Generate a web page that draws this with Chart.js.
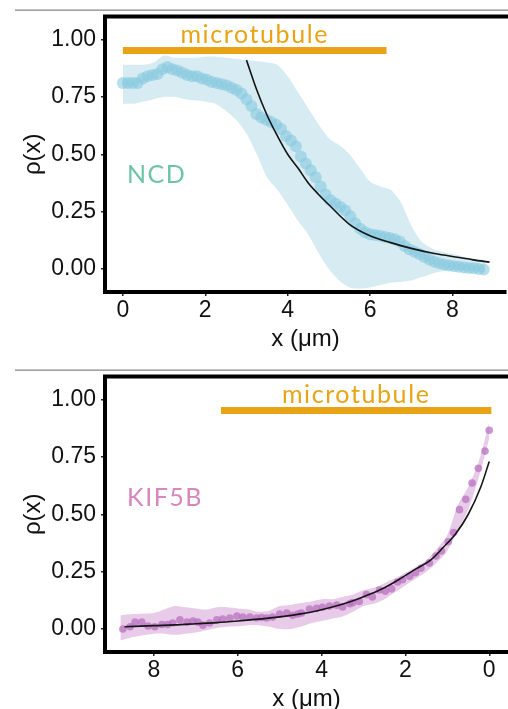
<!DOCTYPE html>
<html><head><meta charset="utf-8">
<script src="https://cdn.jsdelivr.net/npm/chart.js@4.4.1/dist/chart.umd.min.js"></script>
<style>
html,body{margin:0;padding:0;background:#fff;overflow:hidden;width:508px;height:709px;position:relative;}
.wrap{position:absolute;left:0;width:512px;height:360px;}
#w1{top:0}
#w2{top:360px}
canvas{display:block}
</style></head><body>
<div class="wrap" id="w1"><canvas id="c1" width="512" height="360"></canvas></div>
<div class="wrap" id="w2"><canvas id="c2" width="512" height="360"></canvas></div>
<script>
// ---------- shared ticks ----------
const xTicks = [0, 2, 4, 6, 8];
const yTicks = [0, 0.25, 0.5, 0.75, 1.0];

// ---------- NCD (top panel) ----------
const ncdX = [0.00,0.12,0.24,0.36,0.48,0.60,0.72,0.84,0.96,1.08,1.20,1.32,1.44,1.56,1.68,1.80,1.92,2.04,2.16,2.28,2.40,2.52,2.64,2.76,2.88,3.00,3.12,3.24,3.36,3.48,3.60,3.72,3.84,3.96,4.08,4.20,4.32,4.44,4.56,4.68,4.80,4.92,5.04,5.16,5.28,5.40,5.52,5.64,5.76,5.88,6.00,6.12,6.24,6.36,6.48,6.60,6.72,6.84,6.96,7.08,7.20,7.32,7.44,7.56,7.68,7.80,7.92,8.04,8.16,8.28,8.40,8.52,8.64,8.76];
const ncdY = [0.81,0.81,0.81,0.81,0.83,0.84,0.845,0.85,0.87,0.88,0.87,0.865,0.855,0.845,0.84,0.84,0.83,0.825,0.815,0.81,0.805,0.80,0.79,0.78,0.765,0.74,0.71,0.675,0.66,0.65,0.64,0.628,0.61,0.58,0.56,0.535,0.49,0.46,0.43,0.40,0.36,0.325,0.30,0.285,0.27,0.255,0.23,0.20,0.175,0.16,0.152,0.148,0.145,0.14,0.135,0.13,0.12,0.10,0.085,0.075,0.065,0.052,0.042,0.032,0.025,0.02,0.015,0.012,0.01,0.007,0.005,0.003,0.0,-0.002];
const ncdBandX = [0,0.25,0.5,0.75,1.0,1.25,1.5,1.75,2.0,2.25,2.5,2.75,3.0,3.25,3.5,3.75,4.0,4.25,4.5,4.75,5.0,5.25,5.5,5.75,6.0,6.25,6.5,6.75,7.0,7.25,7.5,7.75,8.0,8.25,8.5,8.8];
const ncdUpper = [0.89,0.89,0.89,0.90,0.93,0.92,0.92,0.92,0.925,0.925,0.92,0.915,0.91,0.905,0.90,0.89,0.84,0.77,0.70,0.63,0.57,0.54,0.50,0.44,0.38,0.36,0.345,0.29,0.19,0.12,0.09,0.075,0.065,0.055,0.045,0.04];
const ncdLower = [0.72,0.72,0.73,0.74,0.75,0.75,0.74,0.735,0.73,0.72,0.69,0.65,0.59,0.50,0.40,0.345,0.28,0.21,0.15,0.07,0.0,-0.05,-0.08,-0.085,-0.08,-0.07,-0.06,-0.055,-0.05,-0.035,-0.02,-0.01,-0.005,-0.005,-0.01,-0.015];
const ncdFitX = [3.0,3.25,3.5,3.75,4.0,4.25,4.5,4.75,5.0,5.5,6.0,6.5,7.0,7.5,8.0,8.5,8.9];
const ncdFitY = [0.91,0.78,0.67,0.58,0.50,0.44,0.375,0.325,0.28,0.195,0.145,0.115,0.09,0.07,0.055,0.04,0.03];
const ncdTubeX = [0, 6.4];

// ---------- KIF5B (bottom panel) ----------
const kifX = [8.74,8.57,8.45,8.29,8.14,7.98,7.81,7.67,7.55,7.38,7.21,7.07,6.95,6.83,6.67,6.50,6.36,6.19,6.02,5.88,5.71,5.55,5.43,5.31,5.17,5.00,4.83,4.69,4.57,4.48,4.29,4.12,3.98,3.81,3.64,3.50,3.33,3.26,3.10,2.93,2.79,2.62,2.48,2.33,2.19,2.07,1.90,1.76,1.63,1.43,1.27,1.14,0.98,0.85,0.71,0.56,0.41,0.26,0.10,0.0];
const kifY = [0.0,0.01,0.03,0.03,0.013,0.01,0.02,0.02,0.026,0.04,0.03,0.035,0.03,0.017,0.026,0.04,0.043,0.048,0.057,0.052,0.052,0.048,0.05,0.048,0.052,0.065,0.07,0.06,0.065,0.07,0.087,0.09,0.095,0.10,0.104,0.096,0.11,0.115,0.12,0.15,0.14,0.17,0.165,0.175,0.205,0.215,0.23,0.245,0.265,0.288,0.318,0.34,0.38,0.42,0.52,0.565,0.636,0.70,0.775,0.866];
const kifBandX = [8.8,8.5,8.0,7.75,7.5,7.25,7.0,6.75,6.5,6.25,6.0,5.75,5.5,5.25,5.0,4.75,4.5,4.25,4.0,3.75,3.5,3.25,3.0,2.75,2.5,2.25,2.0,1.75,1.5,1.25,1.0,0.75,0.5,0.25,0.0];
const kifUpper = [0.06,0.065,0.07,0.085,0.10,0.095,0.09,0.085,0.095,0.095,0.09,0.085,0.075,0.08,0.10,0.105,0.113,0.12,0.13,0.13,0.14,0.15,0.17,0.18,0.20,0.22,0.245,0.27,0.30,0.35,0.41,0.54,0.62,0.73,0.90];
const kifLower = [-0.05,-0.035,-0.02,-0.02,-0.025,-0.02,-0.015,-0.005,0.005,0.01,0.012,0.017,0.017,0.01,0.0,0.0,0.01,0.025,0.035,0.045,0.055,0.075,0.10,0.11,0.13,0.16,0.19,0.22,0.25,0.29,0.34,0.43,0.52,0.66,0.83];
const kifFitX = [8.7,8.0,7.5,7.0,6.5,6.0,5.5,5.0,4.5,4.1,3.7,3.3,2.9,2.5,2.1,1.75,1.4,1.1,0.8,0.5,0.2,0.0];
const kifFitY = [0.01,0.015,0.018,0.023,0.028,0.035,0.043,0.053,0.066,0.08,0.098,0.12,0.148,0.18,0.222,0.262,0.30,0.355,0.415,0.50,0.62,0.73];
const kifTubeX = [6.4, -0.05];

const tubeLevel = 0.952;

// ---------- helpers ----------
const pts = (xs, ys) => xs.map((x, i) => ({x: x, y: ys[i]}));
const AXIS_FONT = 'Liberation Sans';
const ORANGE = 'rgb(232,164,20)';

function framePlugin(cfg) {
  return {
    id: 'frame_' + cfg.name,
    afterDraw(chart) {
      const ctx = chart.ctx;
      const a = chart.chartArea;
      const xs = chart.scales.x, ys = chart.scales.y;
      ctx.save();
      // grey separator line
      ctx.fillStyle = '#8a8a8a';
      ctx.fillRect(15, 9.5, 500, 1.3);
      // top frame edge
      ctx.fillStyle = '#000';
      ctx.fillRect(a.left - 2, a.top - 2, chart.width, 4);
      // microtubule label
      ctx.fillStyle = ORANGE;
      ctx.font = '25px Lato';
      ctx.letterSpacing = '1.6px';
      ctx.textAlign = 'center';
      ctx.textBaseline = 'alphabetic';
      ctx.fillText('microtubule', xs.getPixelForValue(cfg.tubeMid), ys.getPixelForValue(0.983));
      // protein label
      ctx.fillStyle = cfg.labelColor;
      ctx.font = '25px Lato';
      ctx.letterSpacing = '1.5px';
      ctx.textAlign = 'left';
      ctx.textBaseline = 'middle';
      ctx.fillText(cfg.label, xs.getPixelForValue(cfg.labelX), ys.getPixelForValue(cfg.labelY));
      ctx.restore();
    }
  };
}

function makeChart(id, p) {
  return new Chart(document.getElementById(id), {
    type: 'scatter',
    data: {
      datasets: [
        {label: 'fit', data: pts(p.fitX, p.fitY), showLine: true, borderColor: '#151515', borderWidth: 1.6,
         pointRadius: 0, cubicInterpolationMode: 'monotone', fill: false, order: 0},
        {label: p.label, data: pts(p.x, p.y), showLine: false, pointRadius: p.radius, pointHoverRadius: p.radius,
         backgroundColor: p.pointColor, borderWidth: 0, borderColor: 'rgba(0,0,0,0)', order: 1},
        {label: 'microtubule', data: pts(p.tubeX, [tubeLevel, tubeLevel]), showLine: true, borderColor: ORANGE,
         borderWidth: 7, borderCapStyle: 'butt', pointRadius: 0, fill: false, order: 2},
        {label: 'upper', data: pts(p.bandX, p.upper), showLine: true, borderColor: 'rgba(0,0,0,0)', borderWidth: 1,
         pointRadius: 0, tension: 0.25, fill: 4, backgroundColor: p.bandColor, order: 3},
        {label: 'lower', data: pts(p.bandX, p.lower), showLine: true, borderColor: 'rgba(0,0,0,0)', borderWidth: 1,
         pointRadius: 0, tension: 0.25, fill: false, order: 4}
      ]
    },
    options: {
      responsive: false,
      animation: false,
      devicePixelRatio: 1,
      layout: {padding: {left: 0, top: 16, right: 3, bottom: 0}},
      plugins: {legend: {display: false}, tooltip: {enabled: false}},
      scales: {
        x: {
          type: 'linear', min: p.xMin, max: p.xMax, reverse: p.reverse,
          afterBuildTicks: s => { s.ticks = xTicks.map(v => ({value: v})); },
          afterFit: s => { s.height = 68; },
          ticks: {font: {family: AXIS_FONT, size: 23, lineHeight: 1}, color: '#111', padding: 3,
                  maxRotation: 0, autoSkip: false, callback: v => String(v)},
          grid: {drawOnChartArea: false, drawTicks: true, tickLength: 4, color: '#222', lineWidth: 1.5},
          border: {display: true, color: '#000', width: 4},
          title: {display: true, text: 'x (μm)', color: '#111', font: {family: AXIS_FONT, size: 24},
                  padding: {top: 0, bottom: 6}}
        },
        y: {
          type: 'linear', min: -0.1, max: 1.1,
          afterBuildTicks: s => { s.ticks = yTicks.map(v => ({value: v})); },
          afterFit: s => { s.width = 105; },
          ticks: {font: {family: AXIS_FONT, size: 23, lineHeight: 1}, color: '#111', padding: 5,
                  callback: v => Number(v).toFixed(2)},
          grid: {drawOnChartArea: false, drawTicks: true, tickLength: 4, color: '#222', lineWidth: 1.5},
          border: {display: true, color: '#000', width: 4},
          title: {display: true, text: 'ρ(x)', color: '#111', font: {family: AXIS_FONT, size: 24},
                  padding: {top: 19, bottom: 0}}
        }
      }
    },
    plugins: [framePlugin({name: id, label: p.label, labelColor: p.labelColor, labelX: p.labelX,
                           labelY: p.labelY, tubeMid: (p.tubeX[0] + p.tubeX[1]) / 2})]
  });
}

makeChart('c1', {
  label: 'NCD', x: ncdX, y: ncdY, bandX: ncdBandX, upper: ncdUpper, lower: ncdLower,
  fitX: ncdFitX, fitY: ncdFitY, tubeX: ncdTubeX,
  xMin: -0.434, xMax: 9.3, reverse: false, radius: 6,
  pointColor: 'rgba(135,202,224,0.6)', bandColor: 'rgba(173,216,230,0.5)',
  labelColor: 'rgb(110,196,168)', labelX: 0.1, labelY: 0.41
});
makeChart('c2', {
  label: 'KIF5B', x: kifX, y: kifY, bandX: kifBandX, upper: kifUpper, lower: kifLower,
  fitX: kifFitX, fitY: kifFitY, tubeX: kifTubeX,
  xMin: -0.452, xMax: 9.167, reverse: true, radius: 3.8,
  pointColor: 'rgba(185,115,192,0.75)', bandColor: 'rgba(205,140,205,0.45)',
  labelColor: 'rgb(214,135,190)', labelX: 8.64, labelY: 0.57
});
</script>
</body></html>
